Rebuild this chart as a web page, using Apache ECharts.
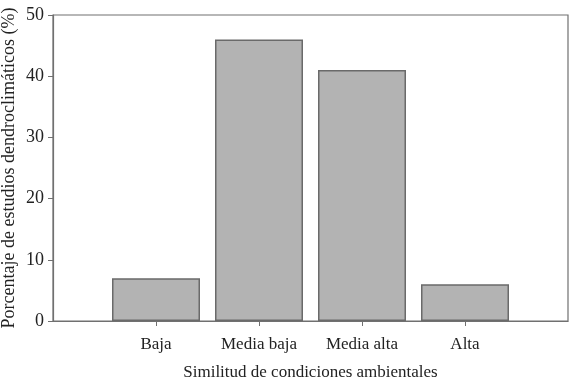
<!DOCTYPE html>
<html>
<head>
<meta charset="utf-8">
<script src="https://cdn.jsdelivr.net/npm/echarts@6/dist/echarts.min.js"></script>
<style>html,body{margin:0;padding:0;background:#fff;}#c{width:569px;height:381px;}</style>
</head>
<body>
<div id="c"></div>
<script>
var categories = ['Baja', 'Media baja', 'Media alta', 'Alta'];
var values = [7, 46, 41, 6];
var yTicks = [0, 10, 20, 30, 40, 50];

var xData = [''].concat(categories).concat(['']);
var barData = ['-'].concat(values).concat(['-']);
var font = '"Liberation Serif", "DejaVu Serif", serif';
var axisColor = '#707070';

var chart = echarts.init(document.getElementById('c'));
chart.setOption({
  backgroundColor: '#ffffff',
  animation: false,
  grid: { left: 53, right: 1, top: 15, bottom: 60, outerBoundsMode: 'none', containLabel: false, show: true, borderColor: axisColor, borderWidth: 1.2, backgroundColor: 'transparent' },
  xAxis: {
    type: 'category',
    data: xData,
    boundaryGap: false,
    name: 'Similitud de condiciones ambientales',
    nameLocation: 'middle',
    nameGap: 43,
    nameMoveOverlap: false,
    nameTextStyle: { fontFamily: font, fontSize: 17, color: '#222' },
    axisLine: { lineStyle: { color: axisColor, width: 1.2 } },
    axisTick: { show: true, length: 5, inside: false, lineStyle: { color: axisColor }, interval: function (i, v) { return v !== ''; } },
    axisLabel: { fontFamily: font, fontSize: 17, color: '#222', margin: 15, interval: function (i, v) { return v !== ''; } },
    splitLine: { show: false }
  },
  yAxis: {
    type: 'value',
    min: yTicks[0],
    max: yTicks[yTicks.length - 1],
    interval: 10,
    name: 'Porcentaje de estudios dendroclimáticos (%)',
    nameLocation: 'middle',
    nameRotate: 90,
    nameGap: 35,
    nameMoveOverlap: false,
    nameTextStyle: { fontFamily: font, fontSize: 18, color: '#222' },
    axisLine: { show: true, lineStyle: { color: axisColor, width: 1.2 } },
    axisTick: { show: true, length: 5, lineStyle: { color: axisColor } },
    axisLabel: { fontFamily: font, fontSize: 18, color: '#222', margin: 9 },
    splitLine: { show: false }
  },
  series: [{
    type: 'bar',
    data: barData,
    barWidth: 88,
    itemStyle: { color: '#b3b3b3', borderColor: '#6a6a6a', borderWidth: 1.5 }
  }]
});
</script>
</body>
</html>
